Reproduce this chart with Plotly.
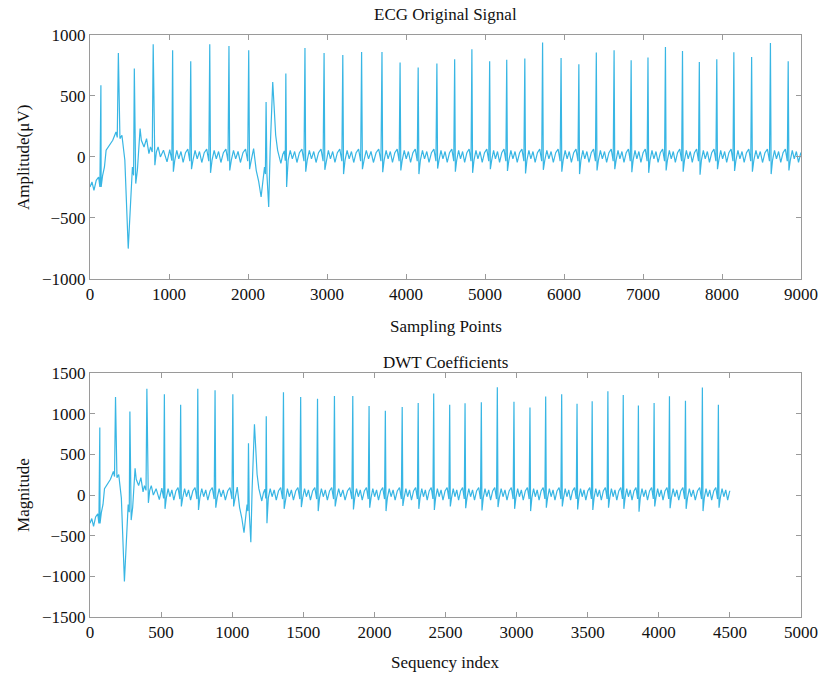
import numpy as np
import plotly.graph_objects as go

# ---------------- data ----------------
# R-peak sample positions and amplitudes (µV)
r_pos = [138, 359, 561, 800, 1046, 1275, 1516, 1759, 2009, 2229, 2479, 2721, 2963, 3200,
         3438, 3696, 3925, 4154, 4391, 4616, 4834, 5059, 5275, 5504, 5729, 5963, 6188,
         6409, 6634, 6850, 7063, 7284, 7500, 7713, 7934, 8150, 8375, 8613, 8838]
r_amp = [588, 852, 725, 924, 875, 784, 924, 910, 875, 451, 684, 893, 852, 836,
         861, 861, 774, 733, 766, 801, 883, 784, 798, 807, 938, 811, 760,
         856, 875, 793, 815, 902, 869, 779, 801, 858, 820, 934, 784]
# S-wave depth following each regular beat
s_val = [-250, -220, -218, -90, -120, -100, -130, -110, -100, -150, -246, -120, -105, -140,
         -100, -125, -110, -140, -95, -120, -130, -100, -115, -135, -105, -120, -140,
         -110, -100, -125, -130, -110, -120, -145, -100, -115, -120, -140, -110]

# samples before the first R peak
lead_x = [0, 25, 50, 79, 109, 125]
lead_y = [-246, -205, -273, -191, -164, -246]

# irregular stretches (baseline wander / artefacts) following given beats
gap_x = {
    0: [141, 160, 183, 204, 246, 288, 329, 345],
    1: [379, 404, 425, 441, 484, 516, 537, 552],
    2: [579, 600, 634, 650, 684, 716, 746, 766, 788],
    3: [821, 840, 862, 891, 930, 975, 1010, 1036],
    8: [2020, 2041, 2071, 2104, 2135, 2166, 2190, 2209, 2220],
    9: [2240, 2262, 2280, 2300, 2313, 2330, 2350, 2375, 2395, 2416, 2440, 2460, 2472],
}
gap_y = {
    0: [-246, -150, -82, 55, 96, 137, 205, 160],
    1: [151, 178, 82, -27, -751, -273, -82, -150],
    2: [-218, -109, 233, 137, 82, 151, 27, 82, 40],
    3: [-68, 40, 82, 0, 55, -40, 60, -30],
    8: [-100, -27, 69, -109, -200, -328, -200, -82, -140],
    9: [-150, -410, 50, 450, 615, 420, 180, 55, 0, -52, 20, 50, -30],
}

# shape of a regular inter-beat interval (fraction of RR, level in µV; None -> S depth)
wave_frac = [0.04, 0.12, 0.23, 0.34, 0.46, 0.58, 0.71, 0.84, 0.95]
wave_lvl = [None, -25, 55, -15, 45, -45, 35, 65, -35]

x_end = 9000
end_level = 30

# ---------------- build the polyline ----------------
xs = list(lead_x)
ys = list(lead_y)
for i, (p, a) in enumerate(zip(r_pos, r_amp)):
    xs.append(p)
    ys.append(a)
    if i in gap_x:
        xs += gap_x[i]
        ys += gap_y[i]
        continue
    rr = (r_pos[i + 1] - p) if i + 1 < len(r_pos) else 225
    for f, v in zip(wave_frac, wave_lvl):
        xx = p + f * rr
        if xx >= x_end:
            break
        xs.append(xx)
        ys.append(s_val[i] if v is None else v)
xs.append(x_end)
ys.append(end_level)
xs = np.array(xs, dtype=float)
ys = np.array(ys, dtype=float)

# DWT (Haar) approximation coefficients: index halves, magnitude scales by sqrt(2)
dx = xs / 2.0
dy = ys * np.sqrt(2.0)

# ---------------- figure ----------------
line_color = "#38b6e4"
font_family = "Liberation Serif, Times New Roman, serif"

fig = go.Figure()
fig.add_trace(go.Scatter(x=xs, y=ys, mode="lines", line=dict(color=line_color, width=1.2),
                         xaxis="x", yaxis="y", showlegend=False, hoverinfo="skip"))
fig.add_trace(go.Scatter(x=dx, y=dy, mode="lines", line=dict(color=line_color, width=1.2),
                         xaxis="x2", yaxis="y2", showlegend=False, hoverinfo="skip"))

axis_common = dict(showgrid=False, zeroline=False, showline=True, mirror="ticks",
                   linecolor="#9a9a9a", linewidth=1, ticks="inside", ticklen=5,
                   tickcolor="#9a9a9a", tickfont=dict(family=font_family, size=17, color="#111"))

fig.update_layout(
    width=830, height=677,
    margin=dict(l=90, r=20, t=35, b=60),
    paper_bgcolor="white", plot_bgcolor="white",
    font=dict(family=font_family, size=16, color="#111"),
    xaxis=dict(domain=[0, 1], anchor="y", range=[0, 9000], tickvals=list(range(0, 9001, 1000)), **axis_common),
    yaxis=dict(domain=[0.5808, 1], anchor="x", range=[-1000, 1000], tickvals=[-1000, -500, 0, 500, 1000], **axis_common),
    xaxis2=dict(domain=[0, 1], anchor="y2", range=[0, 5000], tickvals=list(range(0, 5001, 500)), **axis_common),
    yaxis2=dict(domain=[0, 0.4192], anchor="x2", range=[-1500, 1500], tickvals=list(range(-1500, 1501, 500)), **axis_common),
    annotations=[
        dict(text="ECG Original Signal", x=0.5, y=1.0344, xref="paper", yref="paper",
             showarrow=False, xanchor="center", yanchor="middle", font=dict(size=17)),
        dict(text="Sampling Points", x=0.5, y=0.5, xref="paper", yref="paper",
             showarrow=False, xanchor="center", yanchor="middle", font=dict(size=17)),
        dict(text="DWT Coefficients", x=0.5, y=0.438, xref="paper", yref="paper",
             showarrow=False, xanchor="center", yanchor="middle", font=dict(size=17)),
        dict(text="Sequency index", x=0.5, y=-0.079, xref="paper", yref="paper",
             showarrow=False, xanchor="center", yanchor="middle", font=dict(size=17)),
        dict(text="Amplitude(μV)", x=-0.0944, y=0.790, xref="paper", yref="paper", textangle=-90,
             showarrow=False, xanchor="center", yanchor="middle", font=dict(size=17)),
        dict(text="Magnitude", x=-0.0944, y=0.2096, xref="paper", yref="paper", textangle=-90,
             showarrow=False, xanchor="center", yanchor="middle", font=dict(size=17)),
    ],
)

fig.write_html("out.html")
